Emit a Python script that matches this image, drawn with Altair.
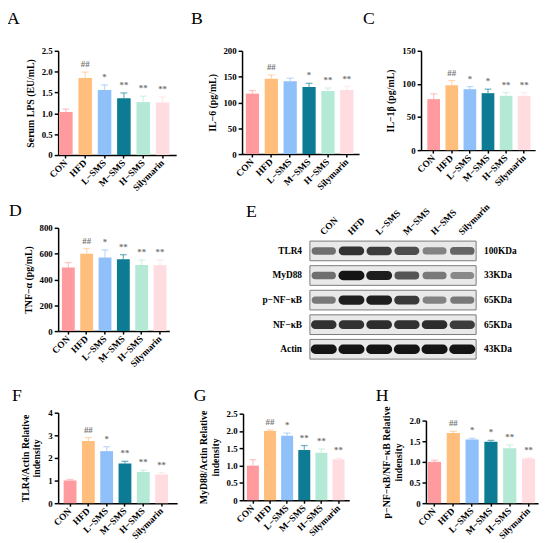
import altair as alt
import pandas as pd

FONT = "Liberation Serif"
CW, CH = 183, 181  # grid cell size

groups = ["CON", "HFD", "L−SMS", "M−SMS", "H−SMS", "Silymarin"]
colors = ["#FF9A9E", "#FFBE7C", "#8FC0FA", "#0C7B93", "#B3E9D5", "#FFDCDF"]

# Panel A: serum LPS
lps = [1.03, 1.85, 1.56, 1.36, 1.27, 1.26]
lps_err = [0.07, 0.14, 0.12, 0.13, 0.14, 0.13]
lps_sig = ["", "##", "*", "**", "**", "**"]

# Panel B: IL-6
il6 = [117, 146, 141, 130, 122, 124]
il6_err = [6, 7, 6, 7, 6, 7]
il6_sig = ["", "##", "", "*", "**", "**"]

# Panel C: IL-1beta
il1b = [77, 98, 92, 86, 82, 82]
il1b_err = [8, 7, 4, 6, 5, 5]
il1b_sig = ["", "##", "*", "*", "**", "**"]

# Panel D: TNF-alpha
tnf = [493, 600, 570, 557, 512, 510]
tnf_err = [38, 40, 58, 35, 38, 40]
tnf_sig = ["", "##", "*", "**", "**", "**"]

# Panel F: TLR4/Actin
tlr4 = [1.0, 2.75, 2.3, 1.75, 1.38, 1.27]
tlr4_err = [0.05, 0.15, 0.2, 0.1, 0.07, 0.08]
tlr4_sig = ["", "##", "*", "**", "**", "**"]

# Panel G: MyD88/Actin
myd88 = [1.0, 2.0, 1.86, 1.45, 1.37, 1.18]
myd88_err = [0.17, 0.03, 0.08, 0.13, 0.11, 0.03]
myd88_sig = ["", "##", "*", "**", "**", "**"]

# Panel H: p-NF-kB/NF-kB
pnf = [1.0, 1.70, 1.54, 1.49, 1.33, 1.08]
pnf_err = [0.04, 0.04, 0.03, 0.03, 0.08, 0.02]
pnf_sig = ["", "##", "*", "*", "**", "**"]

# Panel E: western blot band strengths (0..1)
proteins = ["TLR4", "MyD88", "p−NF−κB", "NF−κB", "Actin"]
kda = ["100KDa", "33KDa", "65KDa", "65KDa", "43KDa"]
tlr4_band = [0.55, 0.85, 0.8, 0.72, 0.45, 0.6]
myd88_band = [0.55, 1.0, 0.95, 0.68, 0.5, 0.42]
pnf_band = [0.5, 0.95, 0.95, 0.82, 0.45, 0.5]
nf_band = [0.85, 0.85, 0.88, 0.85, 0.88, 0.8]
actin_band = [1.0, 1.0, 1.0, 1.0, 1.0, 1.0]


def letter_mark(letter, lx, ly):
    return alt.Chart(pd.DataFrame({"t": [letter]})).mark_text(
        align="left", baseline="alphabetic", font=FONT, fontSize=18,
        fontWeight="normal", color="black").encode(
        x=alt.value(lx), y=alt.value(ly), text="t:N")


def panel(letter, vals, errs, sig, ytitle, ticks, dec, box, pad, lpos):
    xl, xr, yt, yb = box
    po, al = pad
    df = pd.DataFrame({"group": groups, "value": vals, "err": errs, "sig": sig})
    lab = "datum.value == 0 ? '0' : format(datum.value, '.1f')" if dec else "format(datum.value, 'd')"
    x = alt.X("group:N", sort=groups,
              scale=alt.Scale(range=[xl, xr], paddingInner=0.3, paddingOuter=po, align=al),
              axis=alt.Axis(title=None, labelAngle=-45, labelAlign="right",
                            labelBaseline="middle", tickSize=3, labelPadding=3,
                            labelFontSize=9.5, labelOverlap=False,
                            offset=yb - CH))
    y = alt.Y("value:Q",
              scale=alt.Scale(domain=[0, ticks[-1]], range=[yb, yt], nice=False),
              axis=alt.Axis(title=ytitle, values=ticks, tickCount=len(ticks),
                            labelExpr=lab, tickSize=4, titlePadding=6,
                            labelOverlap=False, labelFlush=False, offset=-xl))
    col = alt.Color("group:N", scale=alt.Scale(domain=groups, range=colors), legend=None)
    base = alt.Chart(df).transform_calculate(top="datum.value + datum.err")
    bars = base.mark_bar().encode(x=x, y=y, color=col)
    rule = base.mark_rule(strokeWidth=1.3, opacity=0.55).encode(
        x=x, y="value:Q", y2="top:Q", color=col)
    cap = base.mark_tick(size=7, thickness=1.3, opacity=0.55).encode(
        x=x, y="top:Q", color=col)
    txt = base.mark_text(dy=-3, baseline="bottom", font=FONT, fontSize=9,
                         fontWeight="bold", color="#777777").encode(
        x=x, y="top:Q", text="sig:N")
    return alt.layer(bars, rule, cap, txt, letter_mark(letter, *lpos)).properties(
        width=CW, height=CH)


def blot(box, lpos):
    xl, xr, yt, yb = box
    rows = []
    for pi_, vals in enumerate([tlr4_band, myd88_band, pnf_band, nf_band, actin_band]):
        for li, v in enumerate(vals):
            rows.append({"pi": pi_ + 1, "li": li + 1, "level": v})
    bands_df = pd.DataFrame(rows)
    frames_df = pd.DataFrame({"pi": list(range(1, len(proteins) + 1)),
                              "protein": proteins, "kda": kda})
    lanes_df = pd.DataFrame({"li": list(range(1, len(groups) + 1)), "lane": groups})
    nl = len(groups)
    xs = alt.Scale(domain=[0.5, nl + 0.5], range=[xl, xr], nice=False, zero=False)
    ys = alt.Scale(domain=[0.5, len(proteins) + 0.5], range=[yt, yb], nice=False, zero=False)

    fr = alt.Chart(frames_df).transform_calculate(
        x0="0.5", x1=f"{nl} + 0.5", y0="datum.pi - 0.4", y1="datum.pi + 0.4")
    frames = fr.mark_rect(fill="#e9e9e9", stroke="#7a7a7a", strokeWidth=1).encode(
        x=alt.X("x0:Q", scale=xs, axis=None), x2="x1:Q",
        y=alt.Y("y0:Q", scale=ys, axis=None), y2="y1:Q")
    left = fr.mark_text(align="right", dx=-8, font=FONT, fontSize=9.5,
                        fontWeight="bold", color="black").encode(
        x=alt.X("x0:Q", scale=xs, axis=None), y=alt.Y("pi:Q", scale=ys, axis=None),
        text="protein:N")
    right = fr.mark_text(align="left", dx=8, font=FONT, fontSize=9.5,
                         fontWeight="bold", color="black").encode(
        x=alt.X("x1:Q", scale=xs, axis=None), y=alt.Y("pi:Q", scale=ys, axis=None),
        text="kda:N")
    bands = alt.Chart(bands_df).transform_calculate(
        bx0="datum.li - 0.4", bx1="datum.li + 0.4",
        by0="datum.pi - 0.11", by1="datum.pi + 0.11").mark_rect(
        cornerRadius=3, color="#151515", stroke="#151515").encode(
        x=alt.X("bx0:Q", scale=xs, axis=None), x2="bx1:Q",
        y=alt.Y("by0:Q", scale=ys, axis=None), y2="by1:Q",
        opacity=alt.Opacity("level:Q", scale=alt.Scale(domain=[0, 1], range=[0.05, 1]),
                            legend=None),
        strokeWidth=alt.StrokeWidth("level:Q", scale=alt.Scale(domain=[0, 1], range=[0, 4]),
                                    legend=None))
    cols = alt.Chart(lanes_df).transform_calculate(ly="0.2").mark_text(
        angle=315, align="left", baseline="middle", dx=-3, font=FONT, fontSize=9.5,
        fontWeight="bold", color="black").encode(
        x=alt.X("li:Q", scale=xs, axis=None), y=alt.Y("ly:Q", scale=ys, axis=None),
        text="lane:N")
    return alt.layer(frames, bands, left, right, cols, letter_mark("E", *lpos)).properties(
        width=CW, height=CH)


A = panel("A", lps, lps_err, lps_sig, "Serum LPS (EU/mL)", [0, 0.5, 1, 1.5, 2, 2.5], True,
          (57, 177, 47, 153), (0.2, 0.12), (5, 20))
B = panel("B", il6, il6_err, il6_sig, "IL−6 (pg/mL)", [0, 50, 100, 150, 200], False,
          (61, 180, 47, 152), (0.25, 0.4), (9, 20))
C = panel("C", il1b, il1b_err, il1b_sig, "IL−1β (pg/mL)", [0, 50, 100, 150], False,
          (60, 176, 47, 148), (0.3, 0.58), (1, 20))
D = panel("D", tnf, tnf_err, tnf_sig, "TNF−α (pg/mL)", [0, 200, 400, 600, 800], False,
          (57, 170, 46, 151), (0.18, 0.57), (7, 34))
E = blot((130, 299, 57, 182), (65, 35))
S = alt.Chart(pd.DataFrame({"t": [""]})).mark_text().encode(text="t:N").properties(
    width=CW, height=CH)
F = panel("F", tlr4, tlr4_err, tlr4_sig, ["TLR4/Actin Relative", "indensity"], [0, 1, 2, 3, 4], False,
          (57, 178, 53, 145), (0.4, 0.375), (10, 41))
G = panel("G", myd88, myd88_err, myd88_sig, ["MyD88/Actin Relative", "indensity"], [0, 0.5, 1, 1.5, 2, 2.5], True,
          (62, 170, 54, 142), (0.25, 0.45), (12, 41))
H = panel("H", pnf, pnf_err, pnf_sig, ["p−NF−κB/NF−κB Relative", "indensity"], [0, 0.5, 1, 1.5, 2.0], True,
          (65, 179, 61, 145), (0.13, 0.4), (14, 41))

chart = alt.concat(
    A, B, C, D, E, S, F, G, H, columns=3, spacing=0, bounds="flush", align="all"
).properties(
    padding={"left": -6, "top": -8, "right": 0, "bottom": 0}
).configure_view(stroke=None).configure_axis(
    domainColor="black", domainWidth=1.5, tickColor="black", tickWidth=1.5,
    labelFont=FONT, labelFontWeight="bold", labelFontSize=9, labelColor="black",
    titleFont=FONT, titleFontWeight="bold", titleFontSize=10, titleColor="black",
    grid=False,
)

chart.save("out.html", embed_options={"renderer": "svg", "actions": False})
